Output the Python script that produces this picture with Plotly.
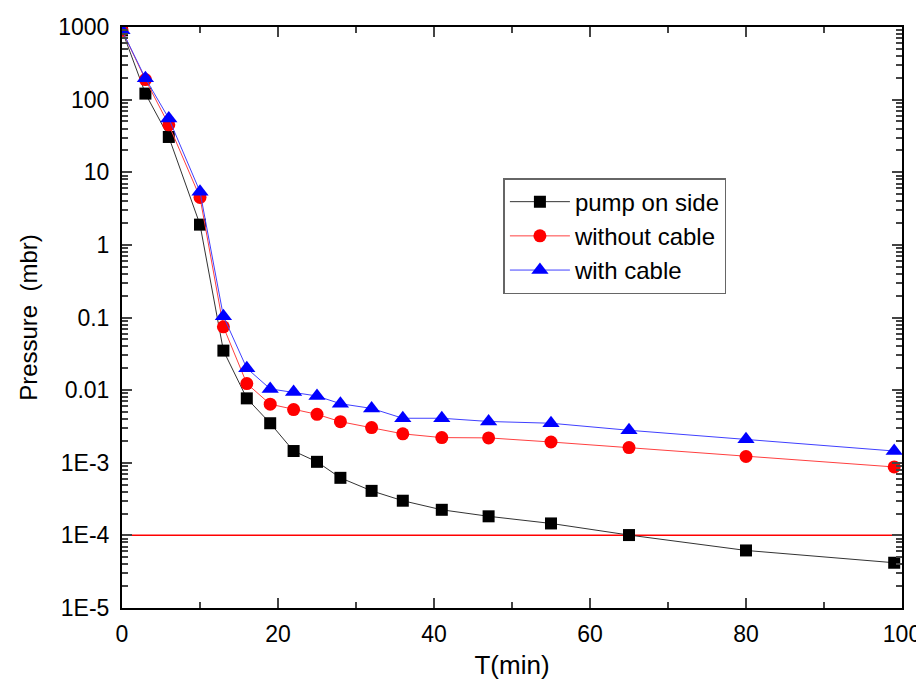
import plotly.graph_objects as go

t_pump = [0, 3, 6, 10, 13, 16, 19, 22, 25, 28, 32, 36, 41, 47, 55, 65, 80, 99]
p_pump = [900, 121, 30.6, 1.9, 0.035, 0.0077, 0.0035, 0.00145, 0.00103, 0.00062, 0.00041, 0.0003,
          0.000225, 0.000183, 0.000146, 0.000101, 0.000062, 0.000042]

t_nocable = [0, 3, 6, 10, 13, 16, 19, 22, 25, 28, 32, 36, 41, 47, 55, 65, 80, 99]
p_nocable = [900, 189, 45, 4.5, 0.0745, 0.0123, 0.0064, 0.0054, 0.00464, 0.00368, 0.00305, 0.0025,
             0.00222, 0.0022, 0.00193, 0.00162, 0.00122, 0.000875]

t_cable = [0, 3, 6, 10, 13, 16, 19, 22, 25, 28, 32, 36, 41, 47, 55, 65, 80, 99]
p_cable = [900, 197, 55, 5.4, 0.104, 0.02, 0.0104, 0.0094, 0.0083, 0.0065, 0.0056, 0.0041,
           0.0041, 0.0037, 0.0035, 0.0028, 0.0021, 0.00145]

threshold_x = [0, 100]
threshold_y = [1e-4, 1e-4]

y_tickvals = [1e-5, 1e-4, 1e-3, 1e-2, 1e-1, 1, 10, 100, 1000]
y_ticktext = ["1E-5", "1E-4", "1E-3", "0.01", "0.1", "1", "10", "100", "1000"]
x_tickvals = [0, 20, 40, 60, 80, 100]

minor_y = [m * 10.0 ** e for e in range(-5, 3) for m in range(2, 10)]

fig = go.Figure()
fig.add_trace(go.Scatter(x=threshold_x, y=threshold_y, mode="lines",
                         line=dict(color="#ff0000", width=1.5), showlegend=False, hoverinfo="skip"))
fig.add_trace(go.Scatter(x=t_pump, y=p_pump, mode="lines+markers", name="pump on side",
                         line=dict(color="#333333", width=1),
                         marker=dict(symbol="square", size=12, color="black")))
fig.add_trace(go.Scatter(x=t_nocable, y=p_nocable, mode="lines+markers", name="without cable",
                         line=dict(color="#ff4040", width=1),
                         marker=dict(symbol="circle", size=13, color="#ff0000")))
fig.add_trace(go.Scatter(x=t_cable, y=p_cable, mode="lines+markers", name="with cable",
                         line=dict(color="#4040ff", width=1),
                         marker=dict(symbol="triangle-up", size=15, color="#0000ff")))

font_family = "Liberation Sans, Arial, sans-serif"

fig.update_layout(
    width=916, height=685,
    margin=dict(l=114, r=22, t=19, b=85),
    paper_bgcolor="white", plot_bgcolor="white",
    font=dict(family=font_family, color="black", size=23),
    legend=dict(x=0.489, y=0.74, xanchor="left", yanchor="top",
                bordercolor="#666666", borderwidth=1.5, bgcolor="white",
                font=dict(size=24), tracegroupgap=0, itemwidth=60),
    xaxis=dict(
        range=[0, 100], tickvals=x_tickvals, ticks="inside", ticklen=10, tickwidth=2,
        showline=True, linecolor="black", linewidth=2, mirror="ticks",
        showgrid=False, zeroline=False, automargin=False, ticklabelstandoff=4,
        minor=dict(tickvals=[10, 30, 50, 70, 90], ticks="inside", ticklen=6, tickwidth=2),
        title=dict(text="T(min)", font=dict(size=26), standoff=10),
        tickfont=dict(size=23),
    ),
    yaxis=dict(
        type="log", range=[-5, 3], tickvals=y_tickvals, ticktext=y_ticktext,
        ticks="inside", ticklen=10, tickwidth=2,
        showline=True, linecolor="black", linewidth=2, mirror="ticks",
        showgrid=False, zeroline=False, automargin=False, ticklabelstandoff=6,
        minor=dict(tickvals=minor_y, ticks="inside", ticklen=6, tickwidth=2),
        title=dict(text="Pressure  (mbr)", font=dict(size=24), standoff=14),
        tickfont=dict(size=23),
    ),
)

fig.write_html("out.html")
